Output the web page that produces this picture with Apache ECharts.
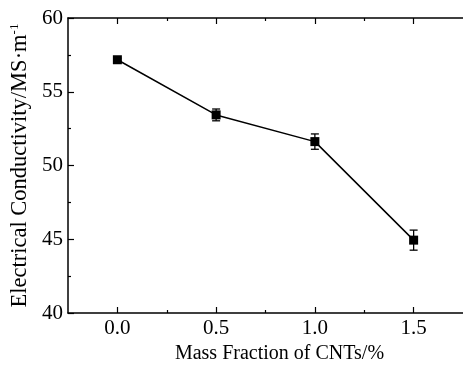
<!DOCTYPE html>
<html>
<head>
<meta charset="utf-8">
<script src="https://cdn.jsdelivr.net/npm/echarts@6/dist/echarts.min.js"></script>
<style>
html,body{margin:0;padding:0;background:#fff;}
#c{width:463px;height:376px;}
</style>
</head>
<body>
<div id="c"></div>
<script>
var massFraction = [0.0, 0.5, 1.0, 1.5];
var conductivity = [57.17, 53.43, 51.62, 44.94];
var errorValues = [0.1, 0.4, 0.52, 0.68];
var xMajorTicks = [0, 0.5, 1.0, 1.5];
var xMinorTicks = [0.25, 0.75, 1.25];
var yMinorTicks = [42.5, 47.5, 52.5, 57.5];

var FONT = "'Liberation Serif','Times New Roman',serif";
var chart = echarts.init(document.getElementById('c'), null, {renderer: 'canvas'});

var lineData = massFraction.map(function (x, i) { return [x, conductivity[i]]; });
var errData = massFraction.map(function (x, i) { return [x, conductivity[i] - errorValues[i], conductivity[i] + errorValues[i]]; });

var tickStyle = {color: '#000', width: 1.2};
var baseX = {
  type: 'value', min: -0.25, max: 1.75, gridIndex: 0,
  splitLine: {show: false}
};
var baseY = {
  type: 'value', min: 40, max: 60, interval: 5, gridIndex: 0,
  splitLine: {show: false}
};

var option = {
  animation: false,
  backgroundColor: '#fff',
  grid: {left: 68, top: 18, right: -3, bottom: 63, containLabel: false},
  xAxis: [
    Object.assign({}, baseX, {
      position: 'bottom',
      name: 'Mass Fraction of CNTs/%',
      nameLocation: 'middle',
      nameGap: 18,
      nameTextStyle: {fontFamily: FONT, fontSize: 20, color: '#000', padding: [0, 0, 0, 28]},
      axisLine: {show: true, onZero: false, lineStyle: {color: '#000', width: 1.5}},
      axisTick: {show: true, inside: true, length: 6, lineStyle: tickStyle, customValues: xMajorTicks},
      axisLabel: {show: true, margin: 5, fontFamily: FONT, fontSize: 21, color: '#000', customValues: xMajorTicks,
        formatter: function (v) { return v.toFixed(1); }}
    }),
    Object.assign({}, baseX, {
      position: 'bottom',
      axisLine: {show: false, onZero: false},
      axisTick: {show: true, inside: true, length: 3, lineStyle: tickStyle, customValues: xMinorTicks},
      axisLabel: {show: false}
    }),
    Object.assign({}, baseX, {
      position: 'top',
      axisLine: {show: true, onZero: false, lineStyle: {color: '#000', width: 1.5}},
      axisTick: {show: true, inside: true, length: 6, lineStyle: tickStyle, customValues: xMajorTicks},
      axisLabel: {show: false}
    }),
    Object.assign({}, baseX, {
      position: 'top',
      axisLine: {show: false, onZero: false},
      axisTick: {show: true, inside: true, length: 3, lineStyle: tickStyle, customValues: xMinorTicks},
      axisLabel: {show: false}
    })
  ],
  yAxis: [
    Object.assign({}, baseY, {
      position: 'left',
      name: 'Electrical Conductivity/MS·m{sup|-1}',
      nameLocation: 'middle',
      nameGap: 33,
      nameRotate: 90,
      nameTextStyle: {fontFamily: FONT, fontSize: 22.5, color: '#000',
        rich: {sup: {fontFamily: FONT, fontSize: 13, color: '#000', verticalAlign: 'top', padding: [0, 0, 10, 0]}}},
      axisLine: {show: true, onZero: false, lineStyle: {color: '#000', width: 1.5}},
      axisTick: {show: true, inside: true, length: 6, lineStyle: tickStyle},
      axisLabel: {margin: 5, fontFamily: FONT, fontSize: 21, color: '#000'}
    }),
    Object.assign({}, baseY, {
      position: 'left',
      axisLine: {show: false, onZero: false},
      axisTick: {show: true, inside: true, length: 3, lineStyle: tickStyle, customValues: yMinorTicks},
      axisLabel: {show: false}
    })
  ],
  series: [
    {
      type: 'line', xAxisIndex: 0, yAxisIndex: 0,
      data: lineData,
      symbol: 'rect', symbolSize: 9,
      itemStyle: {color: '#000'},
      lineStyle: {color: '#000', width: 1.5},
      z: 3
    },
    {
      type: 'custom', xAxisIndex: 0, yAxisIndex: 0,
      data: errData,
      renderItem: function (params, api) {
        var x = api.value(0);
        var lo = api.coord([x, api.value(1)]);
        var hi = api.coord([x, api.value(2)]);
        var hw = 4;
        var st = {stroke: '#000', lineWidth: 1.3};
        return {type: 'group', children: [
          {type: 'line', shape: {x1: lo[0], y1: lo[1], x2: hi[0], y2: hi[1]}, style: st},
          {type: 'line', shape: {x1: lo[0] - hw, y1: lo[1], x2: lo[0] + hw, y2: lo[1]}, style: st},
          {type: 'line', shape: {x1: hi[0] - hw, y1: hi[1], x2: hi[0] + hw, y2: hi[1]}, style: st}
        ]};
      },
      z: 4
    }
  ]
};
chart.setOption(option);
</script>
</body>
</html>
